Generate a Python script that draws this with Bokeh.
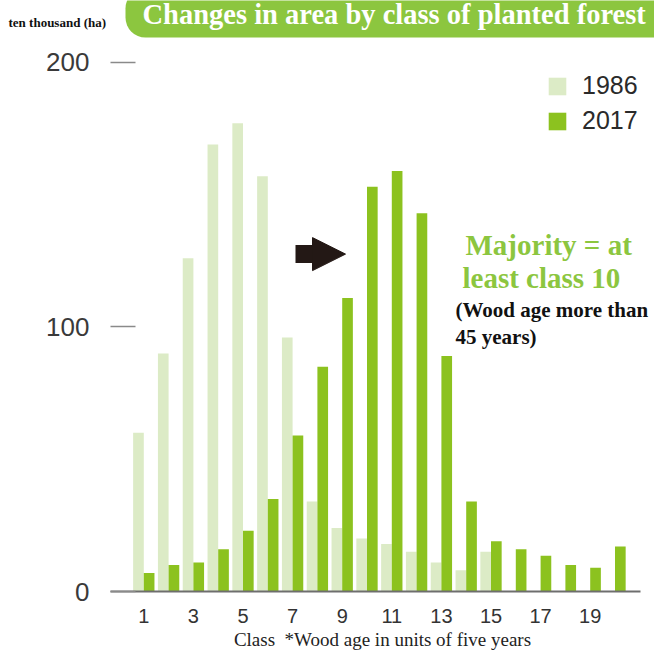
from bokeh.plotting import figure
from bokeh.models import (Range1d, Label, Legend, LegendItem, Arrow, NormalHead,
                          FixedTicker)
from bokeh.embed import file_html
from bokeh.resources import INLINE

# ---------------- data ----------------
classes = list(range(1, 21))
area_1986 = [60, 90, 126, 169, 177, 157, 96, 34, 24, 20, 18, 15, 11, 8, 15, 0, 0, 0, 0, 0]
area_2017 = [7, 10, 11, 16, 23, 35, 59, 85, 111, 153, 159, 143, 89, 34, 19, 16, 13.5, 10, 9, 17]
x_ticks = [1, 3, 5, 7, 9, 11, 13, 15, 17, 19]
y_ticks = [0, 100, 200]
series_names = ["1986", "2017"]

title_text = "Changes in area by class of planted forest"
unit_text = "ten thousand (ha)"
x_title = "Class\u00a0 *Wood age in units of five years"
note_green = ["Majority = at", "least class 10"]
note_black = ["(Wood age more than", "45 years)"]

# ---------------- geometry (page pixels) ----------------
TOTAL_W, TOTAL_H = 654, 652
HEAD_H = 44
MAIN_H = TOTAL_H - HEAD_H
PPX = 24.8           # px per class
PPY = 2.65           # px per unit
FRAME_LEFT = 110
FRAME_RIGHT = 654
BASE = 592
XS = 1 - (143.3 - FRAME_LEFT) / PPX
XE = XS + (FRAME_RIGHT - FRAME_LEFT) / PPX
YE = (BASE - HEAD_H) / PPY
BW = 0.43


def dx(px):
    return XS + (px - FRAME_LEFT) / PPX


def dy(py):
    return (BASE - py) / PPY


LIGHT = "#dcebc6"
DARK = "#8cc21f"
GREEN = "#8cc63f"
SERIF = "Liberation Serif"
SANS = "Liberation Sans"

# ---------------- header ----------------
head = figure(width=TOTAL_W, height=HEAD_H, x_range=Range1d(0, TOTAL_W),
              y_range=Range1d(HEAD_H, 0), x_axis_type=None, y_axis_type=None,
              output_backend="svg", toolbar_location=None, title=None,
              min_border=0)
head.outline_line_color = None
head.xgrid.visible = False
head.ygrid.visible = False

head.add_layout(Label(x=125, y=-12, text=title_text, text_font=SERIF,
                      text_font_style="bold", text_font_size="28.5px", text_color="white",
                      text_baseline="top", text_align="left",
                      background_fill_color=GREEN, border_radius=20,
                      padding=dict(left=17, right=40, top=10, bottom=8)))
head.add_layout(Label(x=8, y=22, text=unit_text, text_font=SERIF,
                      text_font_style="bold", text_font_size="13px", text_color="#111111",
                      text_baseline="alphabetic", text_align="left"))

# ---------------- main chart ----------------
p = figure(width=TOTAL_W, height=MAIN_H, x_range=Range1d(XS, XE), y_range=Range1d(0, YE),
           output_backend="svg", toolbar_location=None, title=None,
           min_border_left=FRAME_LEFT, min_border_right=TOTAL_W - FRAME_RIGHT,
           min_border_top=0, min_border_bottom=TOTAL_H - BASE)
p.xgrid.visible = False
p.ygrid.visible = False
p.outline_line_color = None

x_light = [c - BW / 2 for c in classes]
x_dark = [c + BW / 2 for c in classes]
r1 = p.vbar(x=x_light, top=area_1986, width=BW, bottom=0, fill_color=LIGHT, line_color=None)
r2 = p.vbar(x=x_dark, top=area_2017, width=BW, bottom=0, fill_color=DARK, line_color=None)

# y axis
ya = p.yaxis[0]
ya.ticker = FixedTicker(ticks=y_ticks)
ya.axis_line_color = None
ya.major_tick_in = 25
ya.major_tick_out = 0
ya.major_tick_line_color = "#8a8a8a"
ya.major_tick_line_width = 1.5
ya.minor_tick_line_color = None
ya.major_label_standoff = 21
ya.major_label_text_font = SANS
ya.major_label_text_font_size = "26px"
ya.major_label_text_color = "#3a3a3a"

# x axis
xa = p.xaxis[0]
xa.ticker = FixedTicker(ticks=x_ticks)
xa.bounds = (dx(110), dx(640))
xa.axis_line_color = "#6e6e6e"
xa.axis_line_width = 2
xa.major_tick_line_color = None
xa.major_tick_in = 0
xa.major_tick_out = 0
xa.minor_tick_line_color = None
xa.major_label_standoff = 17
xa.major_label_text_font = SANS
xa.major_label_text_font_size = "20px"
xa.major_label_text_color = "#333333"
xa.axis_label = x_title
xa.axis_label_text_font = SERIF
xa.axis_label_text_font_style = "normal"
xa.axis_label_text_font_size = "19px"
xa.axis_label_text_color = "#222222"
xa.axis_label_standoff = 3

# legend
legend = Legend(items=[LegendItem(label=series_names[0], renderers=[r1]),
                       LegendItem(label=series_names[1], renderers=[r2])],
                location=(436, 456), orientation="vertical",
                glyph_width=22, glyph_height=22, label_height=22,
                label_text_font=SANS, label_text_font_size="25px",
                label_text_color="#2a2a2a", label_standoff=14, spacing=6,
                padding=0, margin=0, border_line_color=None,
                background_fill_alpha=0)
p.add_layout(legend)

# notes
for txt, px, py in zip(note_green, [465, 462], [245, 278]):
    p.add_layout(Label(x=dx(px), y=dy(py), text=txt, text_font=SERIF,
                       text_font_style="bold", text_font_size="29px", text_color=GREEN,
                       text_baseline="alphabetic", text_align="left"))
for txt, py in zip(note_black, [310, 337]):
    p.add_layout(Label(x=dx(455), y=dy(py), text=txt, text_font=SERIF,
                       text_font_style="bold", text_font_size="21px", text_color="#111111",
                       text_baseline="alphabetic", text_align="left"))

# arrow
p.add_layout(Arrow(end=NormalHead(size=33, fill_color="#231815", line_color="#231815"),
                   x_start=dx(295), y_start=dy(254), x_end=dx(345), y_end=dy(254),
                   line_width=18, line_color="#231815", line_cap="butt"))

open("out.html", "w").write(file_html([head, p], INLINE))
